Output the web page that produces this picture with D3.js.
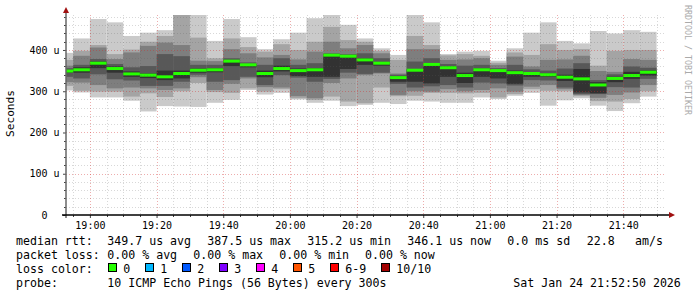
<!DOCTYPE html>
<html>
<head>
<meta charset="utf-8">
<script src="https://cdn.jsdelivr.net/npm/d3@7"></script>
<style>
body { margin: 0; background: #fff; }
text { font-family: "DejaVu Sans Mono", monospace; white-space: pre; }
</style>
</head>
<body>
<svg width="697" height="297"></svg>
<script>
// 5 minute bins (end time of each step), smokeping style
var binEnd = ["18:55","19:00","19:05","19:10","19:15","19:20","19:25","19:30","19:35","19:40","19:45","19:50",
  "19:55","20:00","20:05","20:10","20:15","20:20","20:25","20:30","20:35","20:40","20:45","20:50",
  "20:55","21:00","21:05","21:10","21:15","21:20","21:25","21:30","21:35","21:40","21:45","21:50"]

// sorted ping rtts per bin, in microseconds (ping1 = fastest ... ping10 = slowest)
var ping10 = [393,428,475,467,434,442,448,495,486,422,475,431,402,426,442,477,486,461,428,404,388,486,467,390,396,398,374,404,442,467,422,416,446,440,448,444]
var ping9  = [376,398,412,390,401,420,434,490,430,380,428,407,396,414,400,420,456,424,420,398,376,434,412,387,390,386,369,394,388,414,400,402,362,398,400,400]
var ping8  = [362,386,406,378,394,410,418,412,374,373,402,392,382,388,377,396,420,404,412,392,343,402,402,376,377,380,364,384,360,376,377,386,349,347,378,376]
var ping7  = [356,364,378,366,358,361,390,385,364,364,380,370,364,380,364,368,392,390,392,380,340,372,380,366,362,364,356,364,353,350,355,368,327,341,360,357]
var ping6  = [352,358,372,360,348,343,350,350,355,356,376,366,350,362,355,356,390,387,380,371,336,353,367,360,345,355,352,350,346,343,340,354,322,335,347,350]
var ping5  = [345,345,356,345,335,332,327,331,345,346,361,358,334,348,337,335,335,354,364,362,323,323,319,335,320,335,331,318,335,335,325,297,295,322,330,338]
var ping4  = [335,331,341,329,326,313,313,323,340,323,327,335,315,339,333,323,330,345,342,345,318,309,312,315,309,321,319,314,327,326,309,293,293,310,309,330]
var ping3  = [322,321,315,307,309,307,303,307,334,303,318,331,310,309,288,283,320,331,339,343,291,300,299,305,300,303,307,299,311,315,305,291,284,291,297,315]
var ping2  = [313,301,299,299,287,295,286,300,320,298,296,307,299,305,283,279,287,275,271,309,288,289,296,296,295,296,285,293,305,301,300,288,276,275,281,300]
var ping1  = [302,297,285,285,277,251,264,263,262,272,279,303,292,296,280,272,277,264,267,272,269,277,275,272,272,285,281,289,296,265,278,283,265,252,271,287]
var median = [349,352,368,355,342,339,335,343,351,352,373,364,343,355,350,352,387.5,385,376,368,333,351,365,357,338,352,350,345,343,340,334,330,315.2,331,338,346.1]

var yTicks = [0, 100, 200, 300, 400]
var lossLabels = ["0","1","2","3","4","5","6-9","10/10"]
var lossColors = ["#26ff00","#00b8ff","#0059ff","#7e00ff","#ff00ff","#ff5500","#ff0000","#a10000"]

var parse = d3.timeParse("%Y-%m-%d %H:%M:%S")
var t0 = parse("2026-01-24 18:52:50"), t1 = parse("2026-01-24 21:52:50")

var svg = d3.select("svg")
var x = d3.scaleTime().domain([t0, t1]).range([66, 666])
var y = d3.scaleLinear().domain([0, 484.8]).range([215, 15])

svg.append("clipPath").attr("id", "plot")
  .append("rect").attr("x", 66).attr("y", 15).attr("width", 600).attr("height", 200)

var pings = [ping1, ping2, ping3, ping4, ping5, ping6, ping7, ping8, ping9, ping10]
var bins = binEnd.map(function(e, i) {
  var end = parse("2026-01-24 " + e + ":00")
  var start = d3.timeMinute.offset(end, -5)
  if (start < t0) start = t0
  return {i: i, start: start, end: end}
})

var plot = svg.append("g").attr("clip-path", "url(#plot)")

// smoke: nested bands, outer pair lightest
for (var k = 0; k < 5; k++) {
  var g = Math.round(190 / 5 * (4 - k) + 50)
  var lo = pings[k], hi = pings[9 - k]
  plot.append("g").selectAll("rect").data(bins).enter().append("rect")
    .attr("x", function(d) { return x(d.start) })
    .attr("width", function(d) { return x(d.end) - x(d.start) })
    .attr("y", function(d) { return y(hi[d.i]) })
    .attr("height", function(d) { return y(lo[d.i]) - y(hi[d.i]) })
    .attr("fill", d3.rgb(g, g, g))
}

// median
plot.append("g").selectAll("rect").data(bins).enter().append("rect")
  .attr("x", function(d) { return x(d.start) })
  .attr("width", function(d) { return x(d.end) - x(d.start) })
  .attr("y", function(d) { return y(median[d.i]) - 1.5 })
  .attr("height", 3)
  .attr("fill", lossColors[0])

// grid on top
var minorY = d3.range(20, 484, 20).filter(function(v) { return v % 100 })
var majorY = d3.range(100, 484, 100)
var minorX = d3.timeMinute.every(5).range(t0, t1).filter(function(t) { return t.getMinutes() % 20 })
var majorX = d3.timeMinute.every(20).range(t0, t1)

var grid = svg.append("g").attr("stroke-dasharray", "1,2").attr("stroke-width", 1)
grid.selectAll(".hmin").data(minorY).enter().append("line")
  .attr("x1", 66).attr("x2", 666)
  .attr("y1", function(d) { return Math.round(y(d)) + 0.5 })
  .attr("y2", function(d) { return Math.round(y(d)) + 0.5 })
  .attr("stroke", "rgba(90,90,90,0.24)")
grid.selectAll(".vmin").data(minorX).enter().append("line")
  .attr("y1", 15).attr("y2", 215)
  .attr("x1", function(d) { return Math.round(x(d)) + 0.5 })
  .attr("x2", function(d) { return Math.round(x(d)) + 0.5 })
  .attr("stroke", "rgba(90,90,90,0.24)")
grid.selectAll(".hmaj").data(majorY).enter().append("line")
  .attr("x1", 66).attr("x2", 666)
  .attr("y1", function(d) { return Math.round(y(d)) + 0.5 })
  .attr("y2", function(d) { return Math.round(y(d)) + 0.5 })
  .attr("stroke", "rgba(210,40,40,0.38)")
grid.selectAll(".vmaj").data(majorX).enter().append("line")
  .attr("y1", 15).attr("y2", 215)
  .attr("x1", function(d) { return Math.round(x(d)) + 0.5 })
  .attr("x2", function(d) { return Math.round(x(d)) + 0.5 })
  .attr("stroke", "rgba(210,40,40,0.38)")

// minor ticks
svg.append("g").selectAll("line").data(minorY).enter().append("line")
  .attr("x1", 64).attr("x2", 66)
  .attr("y1", function(d) { return Math.round(y(d)) + 0.5 })
  .attr("y2", function(d) { return Math.round(y(d)) + 0.5 })
  .attr("stroke", "#444")
svg.append("g").selectAll("line").data(minorX).enter().append("line")
  .attr("y1", 215).attr("y2", 217)
  .attr("x1", function(d) { return Math.round(x(d)) + 0.5 })
  .attr("x2", function(d) { return Math.round(x(d)) + 0.5 })
  .attr("stroke", "#444")

// axes
var xAxis = svg.append("g").attr("transform", "translate(0,215)")
  .call(d3.axisBottom(x).tickValues(majorX).tickFormat(d3.timeFormat("%H:%M")).tickSize(3).tickPadding(3.4))
var yAxis = svg.append("g").attr("transform", "translate(66,0)")
  .call(d3.axisLeft(y).tickValues(yTicks).tickSize(3).tickPadding(3.5)
    .tickFormat(function(d) { return d === 0 ? "0  " : d + " u" }))
;[xAxis, yAxis].forEach(function(a) {
  a.select(".domain").remove()
  a.selectAll("line").attr("stroke", "#444")
  a.selectAll("text").attr("font-family", "DejaVu Sans Mono").attr("font-size", "10px").attr("fill", "#000")
})

svg.append("line").attr("x1", 66).attr("x2", 66).attr("y1", 218).attr("y2", 10)
  .attr("stroke", "#666").attr("stroke-width", 1.5)
svg.append("line").attr("x1", 62).attr("x2", 671).attr("y1", 215).attr("y2", 215)
  .attr("stroke", "#000").attr("stroke-width", 1.6)
svg.append("path").attr("d", "M63,13L69,13L66,7Z").attr("fill", "#a01010")
svg.append("path").attr("d", "M669,212L669,218L675,215Z").attr("fill", "#a01010")

svg.append("text").attr("transform", "translate(14,113.5) rotate(-90)")
  .attr("text-anchor", "middle").attr("font-size", "11.1px").text("Seconds")
svg.append("text").attr("transform", "translate(684.5,5) rotate(90)")
  .attr("font-size", "8.3px").attr("fill", "#aaa").text("RRDTOOL / TOBI OETIKER")

// legend
var leg = svg.append("g").attr("font-size", "11.6px").attr("fill", "#000")
function put(tx, ty, s) { leg.append("text").attr("x", tx).attr("y", ty).text(s) }
put(16, 245, "median rtt:")
;[["349.7 us avg",107.3],["387.5 us max",207.3],["315.2 us min",307.3],["346.1 us now",407.3],
  ["0.0 ms sd",507.3],["22.8",586.7],["am/s",635]].forEach(function(p) { put(p[1], 245, p[0]) })
put(16, 259, "packet loss:")
;[["0.00 % avg",107.3],["0.00 % max",193.3],["0.00 % min",279.3],["0.00 % now",365]]
  .forEach(function(p) { put(p[1], 259, p[0]) })
put(16, 273, "loss color:")
var bx = 108.5
lossLabels.forEach(function(l, i) {
  leg.append("rect").attr("x", bx).attr("y", 263.5).attr("width", 8).attr("height", 8)
    .attr("fill", lossColors[i]).attr("stroke", "#000").attr("stroke-width", 1)
  put(bx + 14.8, 273, l)
  bx = bx + 15 + l.length * 7 + 15
})
put(16, 287, "probe:")
put(107.3, 287, "10 ICMP Echo Pings (56 Bytes) every 300s")
put(513.3, 287, "Sat Jan 24 21:52:50 2026")
</script>
</body>
</html>
